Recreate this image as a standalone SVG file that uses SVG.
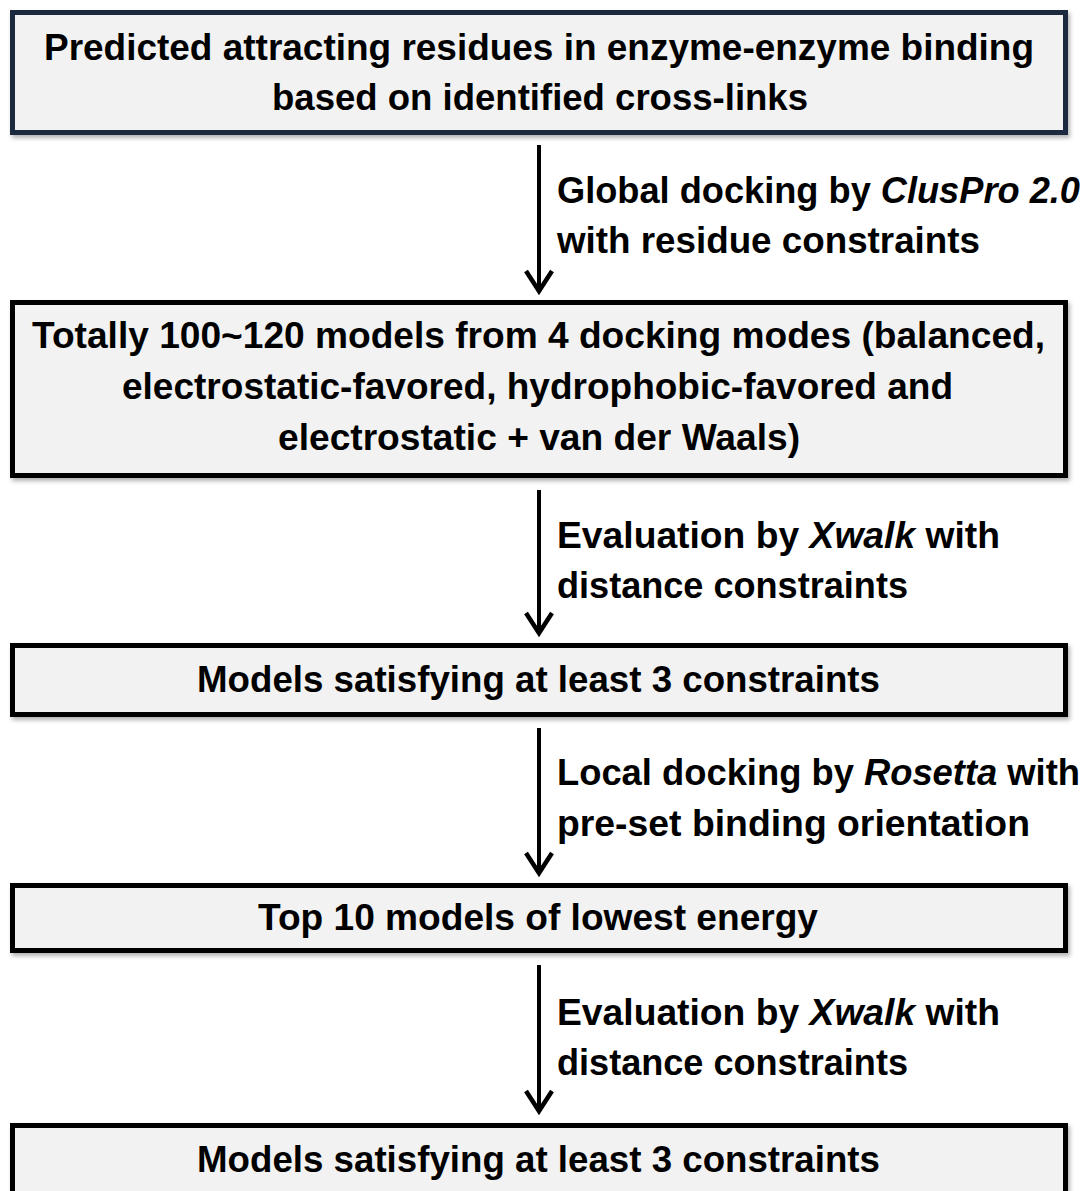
<svg xmlns="http://www.w3.org/2000/svg" width="1087" height="1191" viewBox="0 0 1087 1191">
<style>
.box{fill:#f2f2f2;stroke:#000;stroke-width:5;filter:url(#sh)}
.navy{stroke:#1b2940}
.t{font-family:"Liberation Sans",Arial,sans-serif;font-weight:bold;font-size:37px;fill:#000}
.c{text-anchor:middle}
.i{font-style:italic}
.arr{stroke:#000;stroke-width:4;fill:none;marker-end:url(#ah)}
</style>
<defs>
<filter id="sh" x="-5%" y="-20%" width="110%" height="150%">
<feDropShadow dx="2" dy="3" stdDeviation="2" flood-color="#000" flood-opacity="0.3"/>
</filter>
<marker id="ah" markerUnits="userSpaceOnUse" orient="auto" refX="0" refY="0" markerWidth="40" markerHeight="40" viewBox="-25 -20 30 40" overflow="visible">
<path d="M-20,-13 L0,0 L-20,13" fill="none" stroke="#000" stroke-width="4.5" stroke-linejoin="miter"/>
</marker>
</defs>
<rect width="1087" height="1191" fill="#fff"/>
<g id="n1">
<rect class="box navy" x="12.5" y="12.5" width="1053" height="120"/>
<text class="t c" x="539" y="60" textLength="990" lengthAdjust="spacingAndGlyphs">Predicted attracting residues in enzyme-enzyme binding</text>
<text class="t c" x="540" y="110" textLength="536" lengthAdjust="spacingAndGlyphs">based on identified cross-links</text>
</g>
<g id="n2">
<rect class="box" x="12.5" y="302.5" width="1053" height="173"/>
<text class="t c" x="538.5" y="348" textLength="1013" lengthAdjust="spacingAndGlyphs">Totally 100~120 models from 4 docking modes (balanced,</text>
<text class="t c" x="537.5" y="399" textLength="831" lengthAdjust="spacingAndGlyphs">electrostatic-favored, hydrophobic-favored and</text>
<text class="t c" x="539" y="450" textLength="522" lengthAdjust="spacingAndGlyphs">electrostatic + van der Waals)</text>
</g>
<g id="n3">
<rect class="box" x="12.5" y="645.5" width="1053" height="69"/>
<text class="t c" x="538.5" y="692" textLength="683" lengthAdjust="spacingAndGlyphs">Models satisfying at least 3 constraints</text>
</g>
<g id="n4">
<rect class="box" x="12.5" y="885.5" width="1053" height="65"/>
<text class="t c" x="538" y="930" textLength="560" lengthAdjust="spacingAndGlyphs">Top 10 models of lowest energy</text>
</g>
<g id="n5">
<rect class="box" x="12.5" y="1125.5" width="1053" height="100"/>
<text class="t c" x="538.5" y="1172" textLength="683" lengthAdjust="spacingAndGlyphs">Models satisfying at least 3 constraints</text>
</g>
<g id="connectors">
<line class="arr" x1="539" y1="145" x2="539" y2="291"/>
<line class="arr" x1="539" y1="490" x2="539" y2="633"/>
<line class="arr" x1="539" y1="728" x2="539" y2="873"/>
<line class="arr" x1="539" y1="965" x2="539" y2="1111"/>
</g>
<g id="labels">
<text class="t" x="557" y="203" textLength="523" lengthAdjust="spacingAndGlyphs">Global docking by <tspan class="i">ClusPro 2.0</tspan></text>
<text class="t" x="557" y="253" textLength="423" lengthAdjust="spacingAndGlyphs">with residue constraints</text>
<text class="t" x="557" y="548" textLength="443" lengthAdjust="spacingAndGlyphs">Evaluation by <tspan class="i">Xwalk</tspan> with</text>
<text class="t" x="557" y="598" textLength="351" lengthAdjust="spacingAndGlyphs">distance constraints</text>
<text class="t" x="557" y="785" textLength="523" lengthAdjust="spacingAndGlyphs">Local docking by <tspan class="i">Rosetta</tspan> with</text>
<text class="t" x="557" y="836" textLength="473" lengthAdjust="spacingAndGlyphs">pre-set binding orientation</text>
<text class="t" x="557" y="1025" textLength="443" lengthAdjust="spacingAndGlyphs">Evaluation by <tspan class="i">Xwalk</tspan> with</text>
<text class="t" x="557" y="1075" textLength="351" lengthAdjust="spacingAndGlyphs">distance constraints</text>
</g>
</svg>
